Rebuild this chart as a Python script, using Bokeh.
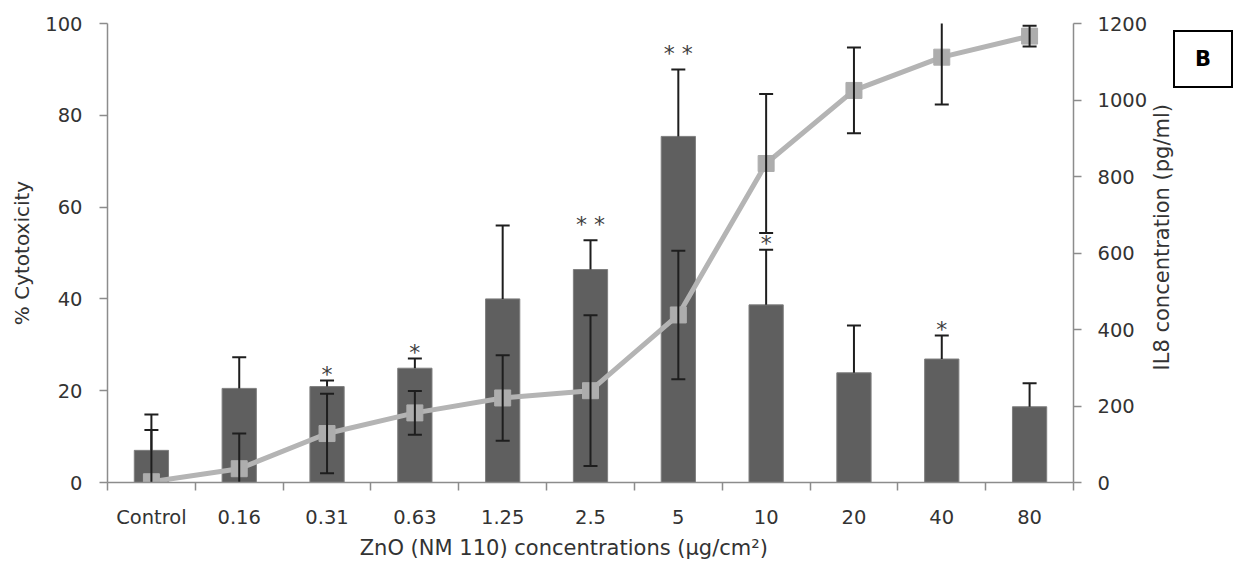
from bokeh.plotting import figure
from bokeh.layouts import row
from bokeh.models import Range1d, LinearAxis, FixedTicker, Div
from bokeh.embed import file_html
from bokeh.resources import INLINE
from bokeh.core.properties import value

# ZnO (NM 110) exposure: cytotoxicity (bars, left axis) and IL8 release (line, right axis)
concentrations = ["Control", "0.16", "0.31", "0.63", "1.25", "2.5", "5", "10", "20", "40", "80"]
cytotoxicity = [7.0, 20.5, 20.9, 24.9, 40.0, 46.4, 75.4, 38.7, 23.9, 26.9, 16.5]
cytotoxicity_err = [7.8, 6.8, 1.3, 2.1, 16.0, 6.4, 14.6, 12.0, 10.3, 5.1, 5.1]
il8 = [2, 36, 128, 182, 221, 240, 438, 834, 1025, 1112, 1167]
il8_err = [135, 92, 104, 57, 112, 197, 168, 182, 112, 124, 27]
significance = ["", "", "*", "*", "", "**", "**", "*", "", "*", ""]
cyto_ticks = [0, 20, 40, 60, 80, 100]
il8_ticks = [0, 200, 400, 600, 800, 1000, 1200]
il8_title = "IL8 concentration (pg/ml)"
panel_letter = "B"

n = len(concentrations)
xs = [i + 0.5 for i in range(n)]

AXIS_GREY = "#8c8c8c"
TEXT = "#333333"
FONT = "DejaVu Sans"

p = figure(
    width=1150, height=562,
    x_range=Range1d(0, n), y_range=Range1d(0, 100),
    min_border_left=107, min_border_right=75, min_border_top=23, min_border_bottom=79,
    output_backend="svg", toolbar_location=None,
)
p.outline_line_color = None
p.xgrid.visible = False
p.ygrid.visible = False
p.extra_y_ranges = {"il8": Range1d(0, 1200)}

# bars with upper error bars
p.vbar(x=xs, top=cytotoxicity, bottom=0, width=0.39,
       fill_color="#5f5f5f", line_color="#7f7f7f", line_width=1)
bar_hi = [c + e for c, e in zip(cytotoxicity, cytotoxicity_err)]
p.segment(x0=xs, y0=cytotoxicity, x1=xs, y1=bar_hi, line_color="#1e1e1e", line_width=2)
p.scatter(x=xs, y=bar_hi, marker="dash", size=14, line_color="#1e1e1e", line_width=2)

# IL8 line with square markers and symmetric error bars
p.line(x=xs, y=il8, y_range_name="il8", line_color="#b4b4b4", line_width=5)
p.scatter(x=xs, y=il8, y_range_name="il8", marker="square", size=16,
          fill_color="#adadad", line_color="#adadad")
il8_lo = [v - e for v, e in zip(il8, il8_err)]
il8_hi = [v + e for v, e in zip(il8, il8_err)]
p.segment(x0=xs, y0=il8_lo, x1=xs, y1=il8_hi, y_range_name="il8",
          line_color="#1e1e1e", line_width=2)
p.scatter(x=xs + xs, y=il8_lo + il8_hi, y_range_name="il8", marker="dash", size=14,
          line_color="#1e1e1e", line_width=2)

# significance marks above the bar error bars
for stars, lift in (("*", -6), ("**", -16)):
    idx = [i for i, s in enumerate(significance) if s == stars]
    p.text(x=[xs[i] for i in idx], y=[bar_hi[i] for i in idx],
           text=[" ".join(stars) for _ in idx],
           text_font=value(FONT), text_font_size="22px", text_color="#404040",
           text_align="center", text_baseline="alphabetic", y_offset=lift)

# x axis: labels at the bar centres, ticks between categories
xa = p.xaxis[0]
xa.ticker = FixedTicker(ticks=xs, minor_ticks=list(range(n + 1)))
xa.major_label_overrides = {x: lab for x, lab in zip(xs, concentrations)}
xa.major_tick_in = 0
xa.major_tick_out = 0
xa.minor_tick_in = 0
xa.minor_tick_out = 8
xa.minor_tick_line_color = AXIS_GREY
xa.minor_tick_line_width = 1.5
xa.axis_line_color = AXIS_GREY
xa.axis_line_width = 1.5
xa.major_label_standoff = 15
xa.major_label_text_font = FONT
xa.major_label_text_font_size = "19.5px"
xa.major_label_text_color = TEXT
# trailing no-break spaces pull the centred title a little to the left
xa.axis_label = "ZnO (NM 110) concentrations (µg/cm²)" + "\u00a0" * 8
xa.axis_label_text_font = FONT
xa.axis_label_text_font_size = "21px"
xa.axis_label_text_font_style = "normal"
xa.axis_label_text_color = TEXT
xa.axis_label_standoff = 4

ya = p.yaxis[0]
ya.ticker = FixedTicker(ticks=cyto_ticks)
ya.axis_label = "% Cytotoxicity"
ya.axis_label_text_font = FONT
ya.axis_label_text_font_size = "20px"
ya.axis_label_text_font_style = "normal"
ya.axis_label_text_color = TEXT
ya.axis_label_standoff = 8

yr = LinearAxis(y_range_name="il8", ticker=FixedTicker(ticks=il8_ticks))
p.add_layout(yr, "right")

for ax in (ya, yr):
    ax.minor_tick_line_color = None
    ax.major_tick_in = 0
    ax.major_tick_out = 8
    ax.major_tick_line_color = AXIS_GREY
    ax.major_tick_line_width = 1.5
    ax.axis_line_color = AXIS_GREY
    ax.axis_line_width = 1.5
    ax.major_label_standoff = 17
    ax.major_label_text_font = FONT
    ax.major_label_text_font_size = "19.5px"
    ax.major_label_text_color = TEXT
yr.major_label_standoff = 16

# right-hand strip: IL8 axis title (reading upwards) and the framed panel letter
side = Div(
    text=(
        '<div style="position:relative; width:89px; height:562px;">'
        '<div style="position:absolute; left:0; top:0; height:475px; display:flex; '
        'align-items:center;">'
        '<span style="writing-mode:vertical-rl; transform:rotate(180deg); '
        "font-family:'DejaVu Sans'; font-size:21px; line-height:24px; color:#333333; "
        f'white-space:nowrap;">{il8_title}</span></div>'
        '<div style="position:absolute; left:23px; top:30px; width:60px; height:58px; '
        'box-sizing:border-box; border:2px solid #000; background:#fff; display:flex; '
        "align-items:center; justify-content:center; font-family:'DejaVu Sans'; "
        f'font-weight:bold; font-size:21px; color:#000;">{panel_letter}</div>'
        '</div>'
    ),
    width=89, height=562, margin=0,
)

page = row(p, side)
open("out.html", "w").write(file_html(page, INLINE))
